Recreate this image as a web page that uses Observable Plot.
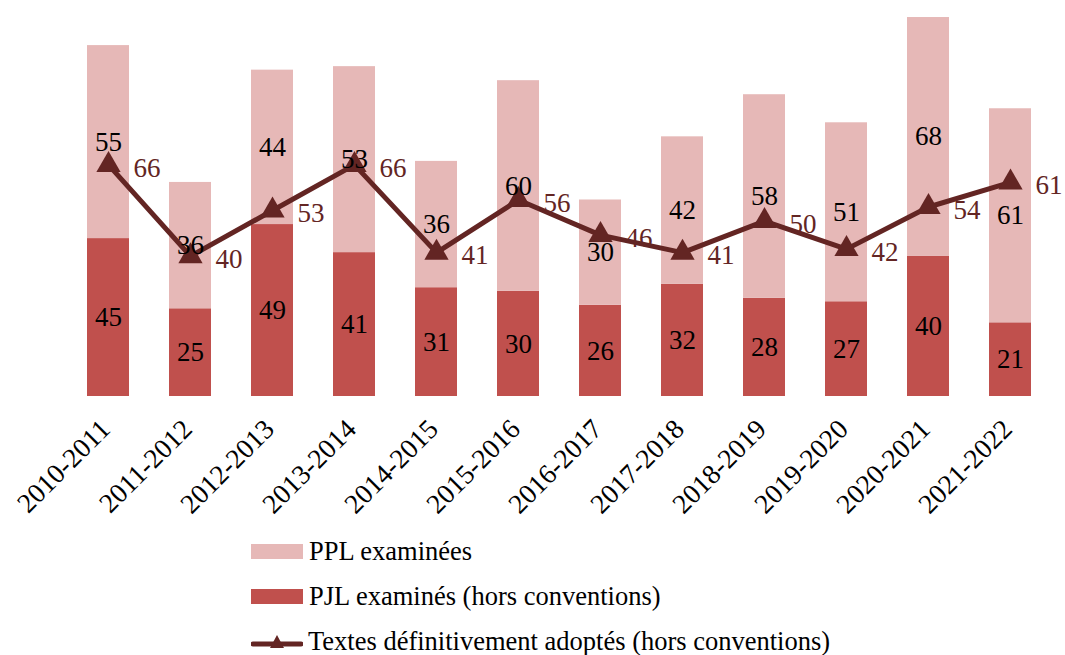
<!DOCTYPE html>
<html><head><meta charset="utf-8">
<script src="https://cdn.jsdelivr.net/npm/d3@7"></script>
<script src="https://cdn.jsdelivr.net/npm/@observablehq/plot@0.6"></script>
<style>
body{margin:0;background:#fff;font-family:"Liberation Serif",serif;width:1065px;height:655px;overflow:hidden;position:relative;}
#legend{position:absolute;left:0;top:529px;}
.row{height:45px;display:flex;align-items:center;padding-left:251px;font-size:26.5px;color:#000;white-space:nowrap;}
.sw{width:52px;height:15px;margin-right:6px;}
.lsw{width:52px;height:20px;margin-right:5px;}
</style></head><body>
<div id="chart"></div>
<div id="legend"></div>
<script>
const years = ["2010-2011","2011-2012","2012-2013","2013-2014","2014-2015","2015-2016","2016-2017","2017-2018","2018-2019","2019-2020","2020-2021","2021-2022"];
const pjl = [45,25,49,41,31,30,26,32,28,27,40,21];
const ppl = [55,36,44,53,36,60,30,42,58,51,68,61];
const adoptes = [66,40,53,66,41,56,46,41,50,42,54,61];
const seriesNames = ["PPL examinées","PJL examinés (hors conventions)","Textes définitivement adoptés (hors conventions)"];
const colors = {ppl:"#E6B8B7", pjl:"#C0504D", line:"#632523"};

const stacked = years.flatMap((y,i)=>[
  {year:y, serie:"PJL", value:pjl[i]},
  {year:y, serie:"PPL", value:ppl[i]}
]);
const lineData = years.map((y,i)=>({year:y, v:adoptes[i]}));

const chart = Plot.plot({
  width:1065, height:529,
  marginLeft:64, marginRight:12, marginTop:10, marginBottom:133,
  style:{fontFamily:"Liberation Serif", fontSize:"26px", background:"#fff"},
  x:{domain:years, paddingInner:0.49, paddingOuter:0.245, label:null},
  y:{domain:[0,110], axis:null},
  color:{domain:["PJL","PPL"], range:[colors.pjl, colors.ppl]},
  marks:[
    Plot.barY(stacked, {x:"year", y:"value", fill:"serie"}),
    Plot.ruleY([0], {stroke:"#A6A6A6", strokeWidth:2, x1:64, x2:1053}),
    Plot.axisX({tickRotate:-45, tickSize:0, tickPadding:28, dx:-3, fontSize:27.5, fill:"#000", label:null}),
    Plot.text(lineData, {x:"year", y:"v", text:"v", dx:25, dy:3, textAnchor:"start", fill:colors.line, fontSize:27}),
    Plot.line(lineData, {x:"year", y:"v", stroke:colors.line, strokeWidth:5}),
    Plot.dot(lineData, {x:"year", y:"v", symbol:"triangle", r:9, fill:colors.line}),
    Plot.text(stacked, Plot.stackY({x:"year", y:"value", text:"value", fill:"#000", fontSize:27}))
  ]
});
document.getElementById("chart").appendChild(chart);

const legend = document.getElementById("legend");
legend.innerHTML = `
<div class="row"><div class="sw" style="background:${colors.ppl}"></div>${seriesNames[0]}</div>
<div class="row"><div class="sw" style="background:${colors.pjl}"></div>${seriesNames[1]}</div>
<div class="row"><svg class="lsw" viewBox="0 0 52 20"><line x1="2" y1="12" x2="50" y2="12" stroke="${colors.line}" stroke-width="5" stroke-linecap="round"/><path d="M26,3 L33,16 L19,16 Z" fill="${colors.line}"/></svg>${seriesNames[2]}</div>`;
</script>
</body></html>
